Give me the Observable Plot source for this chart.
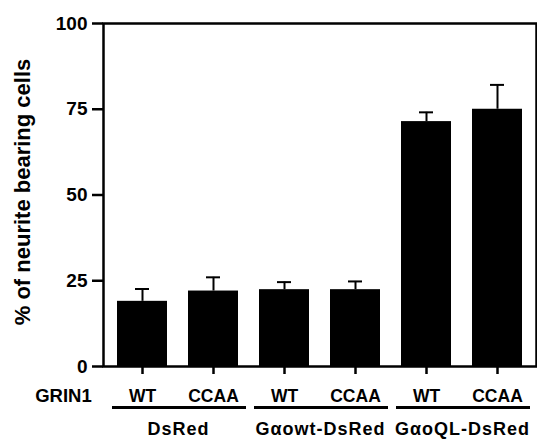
<!DOCTYPE html>
<html><head><meta charset="utf-8">
<script src="https://cdn.jsdelivr.net/npm/d3@7"></script>
<script src="https://cdn.jsdelivr.net/npm/@observablehq/plot@0.6"></script>
<style>
body{margin:0;background:#fff}
svg{font-family:"Liberation Sans",Arial,sans-serif}
</style>
</head><body><div id="chart"></div>
<script>
const groups = ["DsRed", "Gαowt-DsRed", "GαoQL-DsRed"];
const groupOf = ["DsRed", "DsRed", "Gαowt-DsRed", "Gαowt-DsRed", "GαoQL-DsRed", "GαoQL-DsRed"];
const variantOf = ["WT", "CCAA", "WT", "CCAA", "WT", "CCAA"];
const means = [19.0, 22.0, 22.4, 22.4, 71.4, 75.0];
const errors = [3.6, 4.0, 2.2, 2.4, 2.7, 7.1];
const yTicks = [0, 25, 50, 75, 100];
const yLabel = "% of neurite bearing cells";
const factorLabel = "GRIN1";

const keys = means.map((_, i) => groupOf[i] + " " + variantOf[i]);
const rows = means.map((m, i) => ({key: keys[i], group: groupOf[i], variant: variantOf[i], mean: m, top: m + errors[i]}));

const groupMark = (index, scales, values, dimensions) => {
  const x = scales.x;
  const bw = x.bandwidth();
  const yBase = dimensions.height - dimensions.marginBottom;
  const g = d3.create("svg:g");
  groups.forEach(gr => {
    const wt = x(gr + " WT"), cc = x(gr + " CCAA");
    g.append("line")
      .attr("x1", wt + bw / 2 - 30).attr("x2", cc + bw / 2 + 33)
      .attr("y1", yBase + 41.5).attr("y2", yBase + 41.5)
      .attr("stroke", "black").attr("stroke-width", 3);
    g.append("text")
      .attr("x", (wt + cc + bw) / 2 + 1).attr("y", yBase + 68.5)
      .attr("text-anchor", "middle")
      .attr("font-size", 18).attr("font-weight", "bold")
      .attr("letter-spacing", "1px")
      .attr("fill", "black")
      .text(gr);
  });
  return g.node();
};

const chart = Plot.plot({
  width: 537,
  height: 439,
  marginLeft: 103,
  marginRight: 1,
  marginTop: 23,
  marginBottom: 73,
  style: {fontFamily: '"Liberation Sans", Arial, sans-serif', color: "black", background: "white"},
  x: {domain: keys, paddingInner: 0.3, paddingOuter: 0.165, label: null},
  y: {domain: [0, 100], label: null},
  marks: [
    Plot.barY(rows, {x: "key", y: "mean", fill: "black"}),
    Plot.ruleX(rows, {x: "key", y1: "mean", y2: "top", stroke: "black", strokeWidth: 2}),
    Plot.tickY(rows, {x: "key", y: "top", stroke: "black", strokeWidth: 2, insetLeft: 18, insetRight: 18}),
    Plot.frame({stroke: "black", strokeWidth: 2.5}),
    Plot.axisY({ticks: yTicks, tickSize: 11, tickPadding: 5, strokeWidth: 2.5, fontSize: 19, fontWeight: "bold", label: null}),
    Plot.axisX({tickSize: 8, tickPadding: 15.5, strokeWidth: 2.5, fontSize: 17.5, fontWeight: "bold", label: null,
      tickFormat: k => variantOf[keys.indexOf(k)]}),
    Plot.text([yLabel], {text: d => d, frameAnchor: "left", textAnchor: "middle", lineAnchor: "middle", rotate: -90, dx: -81, dy: -3, fontSize: 22, fontWeight: "bold", letterSpacing: "0.5px", fill: "black"}),
    Plot.text([factorLabel], {text: d => d, frameAnchor: "bottom-left", textAnchor: "middle", lineAnchor: "middle", dx: -40, dy: 29.5, fontSize: 18.5, fontWeight: "bold", letterSpacing: "1.5px", fill: "black"}),
    groupMark
  ]
});
document.getElementById("chart").appendChild(chart);
</script>
</body></html>
